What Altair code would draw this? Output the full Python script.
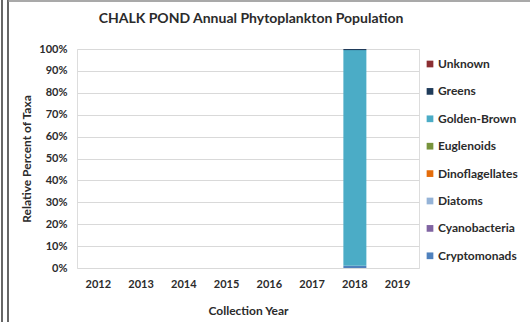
import altair as alt
import pandas as pd

years = ["2012", "2013", "2014", "2015", "2016", "2017", "2018", "2019"]
taxa = ["Cryptomonads", "Cyanobacteria", "Diatoms", "Dinoflagellates",
        "Euglenoids", "Golden-Brown", "Greens", "Unknown"]
colors = ["#4F81BD", "#8064A2", "#95B3D7", "#E46C0A",
          "#77933C", "#4BACC6", "#1F3B5A", "#8B2E32"]
year_2018 = [0.010, 0.0, 0.0, 0.0, 0.0, 0.985, 0.005, 0.0]
y_ticks = [0.0, 0.1, 0.2, 0.3, 0.4, 0.5, 0.6, 0.7, 0.8, 0.9, 1.0]

rows = []
for i, (t, v) in enumerate(zip(taxa, year_2018)):
    rows.append({"Year": "2018", "Taxa": t, "Value": v, "order": i})
df = pd.DataFrame(rows)

FONT = "Lato"
TXT = "#2b2b2b"

bars = alt.Chart(df).mark_bar(size=23).encode(
    x=alt.X("Year:O", scale=alt.Scale(domain=years),
            axis=alt.Axis(title="Collection Year", labelAngle=0, ticks=False,
                          labelPadding=10, titlePadding=16, domain=False,
                          labelFont=FONT, labelFontSize=11, labelFontWeight="bold",
                          labelColor=TXT, titleFont=FONT, titleFontSize=12,
                          titleFontWeight="bold", titleColor=TXT)),
    y=alt.Y("Value:Q", stack="zero", scale=alt.Scale(domain=[0, 1], nice=False),
            axis=alt.Axis(title="Relative Percent of Taxa", format="%",
                          values=y_ticks, ticks=False, domain=False, labelOverlap=False,
                          labelPadding=10, titlePadding=5, gridColor="#d9d9d9",
                          labelFont=FONT, labelFontSize=11, labelFontWeight="bold",
                          labelColor=TXT, titleFont=FONT, titleFontSize=12,
                          titleFontWeight="bold", titleColor=TXT)),
    color=alt.Color("Taxa:N", scale=alt.Scale(domain=taxa, range=colors),
                    sort=taxa[::-1],
                    legend=alt.Legend(title=None, orient="none", legendX=347, legendY=9,
                                      symbolType="square", symbolSize=45,
                                      symbolStrokeWidth=0, labelFont=FONT,
                                      labelFontSize=12, labelFontWeight="bold",
                                      labelColor=TXT, rowPadding=15.4, labelOffset=2,
                                      values=taxa[::-1])),
    order=alt.Order("order:Q", sort="ascending"),
)

frame_df = pd.DataFrame({"k": [0]})
left1 = alt.Chart(frame_df).mark_rule(color="black", strokeWidth=1.2).encode(
    x=alt.value(-75), y=alt.value(-49), y2=alt.value(273))
left2 = alt.Chart(frame_df).mark_rule(color="black", strokeWidth=1.2).encode(
    x=alt.value(-69), y=alt.value(-49), y2=alt.value(273))
top = alt.Chart(frame_df).mark_rule(color="#8c8c8c", strokeWidth=1.5).encode(
    x=alt.value(-69), x2=alt.value(453), y=alt.value(-48))

chart = alt.layer(bars, left1, left2, top).properties(
    width=342, height=219,
    title=alt.TitleParams("CHALK POND Annual Phytoplankton Population",
                          font=FONT, fontSize=14, fontWeight="bold", color=TXT,
                          anchor="middle", offset=-27, dx=3),
    autosize=alt.AutoSizeParams(type="none"),
    padding={"left": 77, "top": 49, "right": 111, "bottom": 54},
).configure_view(stroke="#8c8c8c", strokeWidth=1).configure(background="white")

chart.save("out.html", embed_options={"renderer": "svg", "actions": False})
